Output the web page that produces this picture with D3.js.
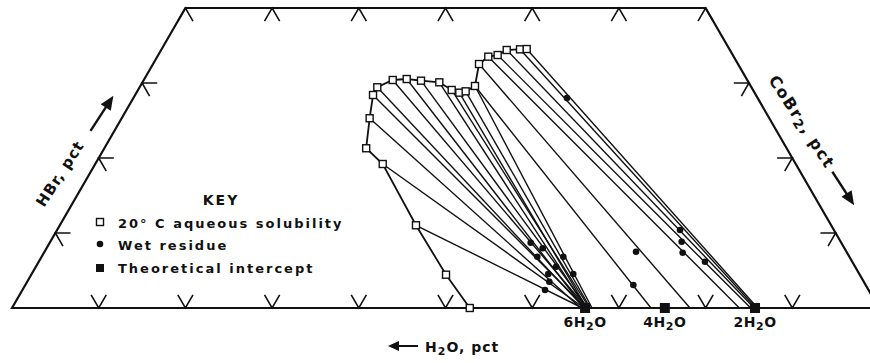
<!DOCTYPE html>
<html><head><meta charset="utf-8">
<script src="https://cdn.jsdelivr.net/npm/d3@7"></script>
<style>
html,body{margin:0;padding:0;background:#fff;}
svg text{font-family:"DejaVu Sans",sans-serif;font-weight:bold;fill:#111;}
</style></head>
<body><svg id="c" width="870" height="363"></svg>
<script>
// ternary data: [CoBr2 pct, HBr pct]
const solubilityA = [[52.8,0],[47.84,4.44],[41.08,11.03],[33.16,19.2],[30.2,21.3],[28.6,25.3],[27.44,28.4],[27.42,29.43],[28.71,30.4],[30.26,30.53],[32.02,30.31],[34.24,30.09],[36.18,29.07],[37.24,28.71],[37.88,28.89],[38.6,29.6]];
const solubilityB = [[38.6,29.6],[37.6,32.53],[38.18,33.51],[39.15,33.73],[39.86,34.4],[41.35,34.49],[42.1,34.53]];
const hydrates = ["6H2O","4H2O","2H2O"];
const hydrateCoBr2 = [66.1,75.3,85.7];
// tie lines: liquid [CoBr2, HBr] and CoBr2 pct where the line meets the H2O-CoBr2 side
const tieLiquid = [[41.08,11.03],[33.16,19.2],[28.6,25.3],[27.44,28.4],[27.42,29.43],[28.71,30.4],[30.26,30.53],[32.02,30.31],[34.24,30.09],[36.18,29.07],[37.24,28.71],[37.88,28.89],[38.6,29.6],[38.6,29.6],[37.6,32.53],[38.18,33.51],[39.15,33.73],[39.86,34.4],[41.35,34.49],[42.1,34.53]];
const tieEnd = [65.8,66.0,65.6,66.2,66.0,66.3,66.0,66.4,66.2,66.6,66.3,66.7,66.9,73.7,78.2,83.9,85.2,85.6,85.8,86.0];
const residues = [[55.47,8.71],[57.23,7.96],[57.17,6.84],[60.17,6.84],[60.0,5.51],[59.59,4.53],[62.47,4.53],[60.22,3.51],[60.28,2.4],[68.22,7.51],[70.13,3.07],[71.85,10.4],[72.82,8.84],[73.67,7.37],[76.84,6.17],[50.01,28]];
const bottomTicks = [10,20,30,40,50,60,70,80,90];
const sideTicks = [10,20,30];
const topTicks = [0,10,20,30,40,50,60];
const topHBr = 40;

const svg = d3.select("#c");
const xs = d3.scaleLinear().domain([0,100]).range([12,879]);
const ys = d3.scaleLinear().domain([0,100]).range([308,-442]);
const P = (c,h) => [xs(c + h/2), ys(h)];
const line = d3.line().x(d=>P(d[0],d[1])[0]).y(d=>P(d[0],d[1])[1]);

// frame
svg.append("path").attr("d", line([[0,0],[0,topHBr],[100-topHBr,topHBr],[100,0]]) + "Z")
  .attr("fill","none").attr("stroke","#111").attr("stroke-width",2.2).attr("stroke-linejoin","miter");

// ticks
const L = 1.75;
const tickPaths = [];
bottomTicks.forEach(c=>{tickPaths.push([[c,L],[c,0],[c-L,L]]);});
sideTicks.forEach(h=>{tickPaths.push([[L,h],[0,h],[L,h-L]]);});
sideTicks.forEach(h=>{const c=100-h;tickPaths.push([[c-L,h],[c,h],[c,h-L]]);});
topTicks.forEach(c=>{tickPaths.push([[c,topHBr-L],[c,topHBr],[c+L,topHBr-L]]);});
svg.append("g").selectAll("path").data(tickPaths).join("path")
  .attr("d", d=>line(d)).attr("fill","none").attr("stroke","#111").attr("stroke-width",1.6);

// tie lines
const ties = tieLiquid.map((p,i)=>[p,[tieEnd[i],0]]);
svg.append("g").selectAll("path").data(ties).join("path")
  .attr("d", d=>line(d)).attr("fill","none").attr("stroke","#111").attr("stroke-width",1.4);

// solubility curves
[solubilityA, solubilityB].forEach(s=>{
  svg.append("path").attr("d", line(s)).attr("fill","none").attr("stroke","#111").attr("stroke-width",1.8);
});

// markers
const allSol = solubilityA.concat(solubilityB.slice(1));
svg.append("g").selectAll("rect").data(allSol).join("rect")
  .attr("x",d=>P(d[0],d[1])[0]-3.5).attr("y",d=>P(d[0],d[1])[1]-3.5)
  .attr("width",7).attr("height",7).attr("fill","#fff").attr("stroke","#111").attr("stroke-width",1.4);
svg.append("g").selectAll("circle").data(residues).join("circle")
  .attr("cx",d=>P(d[0],d[1])[0]).attr("cy",d=>P(d[0],d[1])[1]).attr("r",3.3).attr("fill","#111");
svg.append("g").selectAll("rect").data(hydrateCoBr2).join("rect")
  .attr("x",d=>P(d,0)[0]-5).attr("y",d=>P(d,0)[1]-5).attr("width",10).attr("height",10).attr("fill","#111");

// hydrate labels
hydrates.forEach((h,i)=>{
  const [x] = P(hydrateCoBr2[i],0);
  const t = svg.append("text").attr("x",x).attr("y",327).attr("text-anchor","middle").attr("font-size",14).attr("letter-spacing",0.5);
  t.append("tspan").text(h[0]+"H");
  t.append("tspan").attr("font-size",11).attr("dy",3).text("2");
  t.append("tspan").attr("dy",-3).text("O");
});

// axis titles
const bt = svg.append("text").attr("x",425).attr("y",352).attr("font-size",14).attr("letter-spacing",1);
bt.append("tspan").text("H"); bt.append("tspan").attr("font-size",11).attr("dy",3).text("2");
bt.append("tspan").attr("dy",-3).text("O, pct");
svg.append("path").attr("d","M418,346 L394,346").attr("stroke","#111").attr("stroke-width",2);
svg.append("path").attr("d","M388,346 L399,341 L399,351 Z").attr("fill","#111");

const lt = svg.append("g").attr("transform","translate(44,208) rotate(-57)");
lt.append("text").attr("x",0).attr("y",0).attr("font-size",15).attr("letter-spacing",1).text("HBr, pct");
lt.append("path").attr("d","M90,-3 L124,-3").attr("stroke","#111").attr("stroke-width",2.4);
lt.append("path").attr("d","M132,-3 L118,-9 L118,3 Z").attr("fill","#111");

const rt = svg.append("g").attr("transform","translate(768,80) rotate(57)");
const rtt = rt.append("text").attr("x",0).attr("y",0).attr("font-size",16).attr("letter-spacing",1.5);
rtt.append("tspan").text("CoBr");
rtt.append("tspan").attr("font-size",13).attr("dy",3).text("2");
rtt.append("tspan").attr("dy",-3).text(", pct");
rt.append("path").attr("d","M112,-4 L144,-4").attr("stroke","#111").attr("stroke-width",2.4);
rt.append("path").attr("d","M152,-4 L138,-10 L138,2 Z").attr("fill","#111");

// key
svg.append("text").attr("x",221).attr("y",205).attr("text-anchor","middle").attr("font-size",14).attr("letter-spacing",2).text("KEY");
const keyItems = ["20° C aqueous solubility","Wet residue","Theoretical intercept"];
const keyY = [228,250,273];
keyItems.forEach((k,i)=>svg.append("text").attr("x",118).attr("y",keyY[i]).attr("font-size",13).attr("letter-spacing",2).text(k));
svg.append("rect").attr("x",96.5).attr("y",218.5).attr("width",7).attr("height",7).attr("fill","#fff").attr("stroke","#111").attr("stroke-width",1.4);
svg.append("circle").attr("cx",100).attr("cy",244).attr("r",3.3).attr("fill","#111");
svg.append("rect").attr("x",96).attr("y",264).attr("width",8).attr("height",8).attr("fill","#111");
</script></body></html>
